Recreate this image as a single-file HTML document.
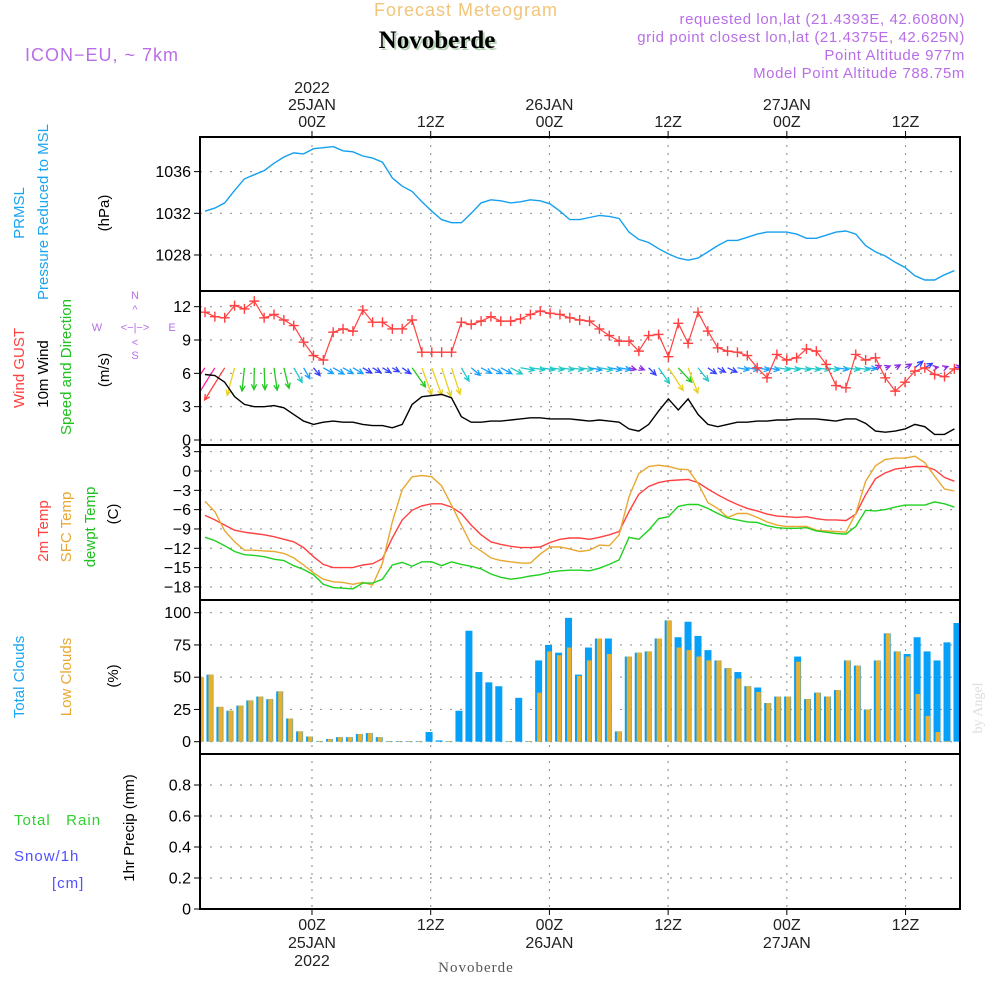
<!DOCTYPE html>
<html><head><meta charset="utf-8">
<style>
html,body{margin:0;padding:0;background:#fff;}
svg{display:block;font-family:"Liberation Sans",sans-serif;}
</style></head>
<body>
<svg id="chart" width="1000" height="1000" viewBox="0 0 1000 1000" xmlns="http://www.w3.org/2000/svg">
<rect width="1000" height="1000" fill="#fff"/>
<defs>
<clipPath id="cp1"><rect x="200" y="137" width="760" height="154"/></clipPath>
<clipPath id="cp2"><rect x="200" y="291" width="760" height="154"/></clipPath>
<clipPath id="cp3"><rect x="200" y="445" width="760" height="155"/></clipPath>
<clipPath id="cp4"><rect x="200" y="600" width="760" height="154"/></clipPath>
</defs>
<!-- header -->
<text x="466" y="16" text-anchor="middle" font-size="18" fill="#f2c57a" letter-spacing="1">Forecast Meteogram</text>
<text x="439" y="50" text-anchor="middle" font-size="25" font-weight="bold" font-family="Liberation Serif,serif" fill="#b8d4b8">Novoberde</text>
<text x="437" y="48" text-anchor="middle" font-size="25" font-weight="bold" font-family="Liberation Serif,serif" fill="#000">Novoberde</text>
<text x="25" y="61" font-size="18" fill="#b86ee8" letter-spacing="1">ICON−EU, ~ 7km</text>
<g font-size="15" fill="#b86ee8" text-anchor="end" letter-spacing="0.6">
<text x="965" y="24">requested lon,lat (21.4393E, 42.6080N)</text>
<text x="965" y="42">grid point closest lon,lat (21.4375E, 42.625N)</text>
<text x="965" y="60">Point Altitude 977m</text>
<text x="965" y="78">Model Point Altitude 788.75m</text>
</g>
<!-- left labels -->
<g font-size="15">
<text transform="translate(24,213) rotate(-90)" text-anchor="middle" fill="#1aa6f0">PRMSL</text>
<text transform="translate(48,212) rotate(-90)" text-anchor="middle" fill="#1aa6f0">Pressure Reduced to MSL</text>
<text transform="translate(109,213) rotate(-90)" text-anchor="middle" fill="#000">(hPa)</text>
<text transform="translate(24,368) rotate(-90)" text-anchor="middle"><tspan fill="#ff4040">Wind GUST</tspan></text>
<text transform="translate(48,374) rotate(-90)" text-anchor="middle" fill="#000">10m Wind</text>
<text transform="translate(71,367) rotate(-90)" text-anchor="middle" fill="#20c020">Speed and Direction</text>
<text transform="translate(109,370) rotate(-90)" text-anchor="middle" fill="#000">(m/s)</text>
<text transform="translate(48,531) rotate(-90)" text-anchor="middle" fill="#ff4040">2m Temp</text>
<text transform="translate(71,527) rotate(-90)" text-anchor="middle" fill="#e8a830">SFC Temp</text>
<text transform="translate(95,527) rotate(-90)" text-anchor="middle" fill="#20c020">dewpt Temp</text>
<text transform="translate(118,514) rotate(-90)" text-anchor="middle" fill="#000">(C)</text>
<text transform="translate(24,677) rotate(-90)" text-anchor="middle" fill="#1aa6f0">Total Clouds</text>
<text transform="translate(71,677) rotate(-90)" text-anchor="middle" fill="#e8a830">Low Clouds</text>
<text transform="translate(118,676) rotate(-90)" text-anchor="middle" fill="#000">(%)</text>
<text transform="translate(134,828) rotate(-90)" text-anchor="middle" fill="#000">1hr Precip (mm)</text>
<text x="14" y="825" fill="#30d030" letter-spacing="1">Total&#160;&#160;&#160;Rain</text>
<text x="14" y="861" fill="#5050ff" letter-spacing="1">Snow/1h</text>
<text x="52" y="888" fill="#5050ff" letter-spacing="1">[cm]</text>
</g>
<g font-size="11" fill="#b86ee8">
<text x="135" y="299" text-anchor="middle">N</text>
<text x="135" y="359" text-anchor="middle">S</text>
<text x="97" y="331" text-anchor="middle">W</text>
<text x="172" y="331" text-anchor="middle">E</text>
<text x="135" y="331" text-anchor="middle">&lt;−|−&gt;</text>
<text x="135" y="313" text-anchor="middle">^</text>
<text x="135" y="346" text-anchor="middle">&lt;</text>
</g>
<text transform="translate(982,708) rotate(-90)" text-anchor="middle" font-size="14" font-family="Liberation Serif,serif" fill="#ddd">by Angel</text>
<text x="476" y="972" text-anchor="middle" font-size="15" font-family="Liberation Serif,serif" fill="#555" letter-spacing="1">Novoberde</text>
<g id="grid"></g>
<g id="marks"></g>
<g id="frame"></g>
<g id="labels"></g>
</svg>
<script>
// ---- data (hourly) ----
const pressure = [1032.2,1032.5,1033.0,1034.2,1035.3,1035.7,1036.1,1036.8,1037.4,1037.8,1037.7,1038.2,1038.3,1038.4,1038.0,1037.9,1037.5,1037.3,1036.9,1035.4,1034.6,1034.1,1033.1,1032.2,1031.4,1031.1,1031.1,1032.0,1033.0,1033.3,1033.2,1033.0,1033.1,1033.3,1033.2,1032.9,1032.2,1031.4,1031.4,1031.6,1031.8,1031.7,1031.5,1030.2,1029.5,1029.2,1028.6,1028.1,1027.7,1027.5,1027.7,1028.3,1028.9,1029.4,1029.4,1029.7,1030.0,1030.2,1030.2,1030.2,1030.0,1029.6,1029.6,1029.9,1030.2,1030.3,1030.0,1028.9,1028.3,1027.9,1027.3,1026.8,1026.0,1025.6,1025.6,1026.1,1026.5];
const gust = [11.5,11.1,11.0,12.1,11.8,12.5,11.0,11.3,10.8,10.3,8.8,7.6,7.2,9.7,10.0,9.8,11.7,10.6,10.6,10.0,10.0,10.8,7.9,7.9,7.9,7.9,10.6,10.4,10.7,11.1,10.7,10.7,10.9,11.3,11.6,11.4,11.3,11.0,10.8,10.7,10.0,9.4,8.9,8.9,8.0,9.4,9.5,7.5,10.5,8.7,11.5,9.8,8.3,8.0,7.9,7.6,6.5,5.6,7.7,7.2,7.4,8.2,8.0,6.8,4.9,4.7,7.7,7.2,7.4,5.6,4.4,5.2,6.2,6.5,5.9,5.7,6.4];
const windSpeed = [5.9,5.8,5.2,3.9,3.2,3.0,3.0,3.1,2.9,2.3,1.7,1.4,1.6,1.7,1.6,1.6,1.4,1.3,1.3,1.1,1.4,3.2,3.9,4.0,4.1,3.8,2.1,1.6,1.6,1.7,1.7,1.8,1.9,2.0,2.0,1.9,1.9,1.9,1.8,1.7,1.8,1.7,1.6,1.0,0.8,1.4,2.6,3.7,2.7,3.7,2.3,1.4,1.2,1.4,1.6,1.6,1.7,1.7,1.8,1.8,1.9,1.9,1.9,1.8,1.7,1.9,1.9,1.5,0.8,0.7,0.8,1.0,1.4,1.2,0.5,0.5,1.0];
const windHeading = [215,212,212,195,186,181,178,172,166,150,150,140,120,120,120,120,120,120,120,120,125,145,160,160,162,162,150,130,118,118,118,118,100,98,98,98,98,98,98,100,100,100,100,105,110,135,145,147,137,159,142,125,120,115,100,100,100,100,98,98,98,98,98,98,98,98,98,95,70,70,60,60,50,60,80,70,80];
const temp2m = [-6.9,-7.6,-8.4,-9.2,-9.5,-9.7,-9.9,-10.2,-10.6,-11.0,-11.9,-13.3,-14.5,-15.0,-15.0,-15.0,-14.6,-14.4,-13.6,-10.4,-7.6,-6.1,-5.4,-5.1,-5.1,-5.6,-6.6,-8.4,-9.9,-11.0,-11.4,-11.7,-11.9,-11.9,-11.8,-11.1,-10.6,-10.4,-10.4,-10.6,-10.3,-9.9,-9.4,-6.3,-3.6,-2.4,-1.8,-1.5,-1.4,-1.3,-1.8,-2.8,-3.7,-4.5,-5.2,-5.8,-6.2,-6.7,-7.0,-7.1,-7.2,-7.1,-7.4,-7.6,-7.6,-7.7,-6.7,-3.7,-1.2,-0.3,0.3,0.5,0.7,0.7,0.2,-1.0,-1.6];
const tempSfc = [-4.7,-6.3,-9.3,-11.0,-12.3,-12.3,-12.4,-12.5,-12.8,-13.5,-14.6,-15.8,-16.8,-17.2,-17.3,-17.6,-17.3,-17.7,-14.3,-7.9,-2.9,-0.9,-0.7,-0.9,-2.3,-5.3,-8.4,-11.4,-12.4,-13.5,-13.9,-14.1,-14.3,-14.3,-12.9,-11.8,-11.8,-12.1,-12.5,-12.3,-11.5,-11.6,-9.9,-4.0,-0.4,0.7,0.9,0.7,0.3,0.2,-1.9,-4.9,-5.8,-7.2,-6.6,-6.6,-7.2,-7.9,-8.4,-8.6,-8.6,-8.6,-9.2,-9.3,-9.4,-9.5,-6.6,-1.6,0.8,1.8,2.0,2.0,2.3,1.3,-0.8,-2.8,-3.1];
const dewpt = [-10.3,-10.8,-11.6,-12.5,-13.0,-13.1,-13.3,-13.7,-13.9,-14.7,-15.3,-16.1,-17.6,-18.1,-18.2,-18.3,-17.4,-17.4,-16.8,-14.6,-14.2,-14.8,-14.1,-14.1,-14.7,-14.1,-14.5,-14.8,-15.2,-16.0,-16.5,-16.8,-16.6,-16.3,-16.1,-15.7,-15.5,-15.4,-15.4,-15.5,-15.1,-14.5,-13.8,-10.3,-10.6,-9.2,-7.4,-7.1,-5.5,-5.2,-5.2,-5.8,-6.6,-7.3,-7.6,-7.9,-8.0,-8.5,-8.8,-8.9,-8.9,-8.8,-9.3,-9.5,-9.7,-9.8,-8.6,-6.1,-6.2,-6.0,-5.6,-5.3,-5.3,-5.3,-4.8,-5.1,-5.6];
const totalClouds = [50,52,27,24,28,32,35,33,39,18,8,4,0.5,2,3.5,3.5,6,6.7,3.5,0.5,0.5,0.5,0.5,7.5,1,0.5,24,86,54,46,43,0.5,34,0.5,63,75,69,96,52,73,80,80,8,66,69,70,80,94,81,93,82,71,63,57,54,43,42,30,35,35,66,33,38,35,40,63,59,25,63,84,70,68,81,70,63,77,92];
const lowClouds = [50,52,27,24,28,32,35,33,39,18,8,4,0.5,2,3.5,3.5,6,6.7,3.5,0.5,0.5,0.5,0.5,0,0,0.5,0,0,0,0,0,0.5,0,0.5,38,70,67,73,51,63,80,68,8,66,69,70,80,94,73,71,66,63,63,57,49,43,38.5,30,35,35,62,33,38,35,40,63,59,25,63,84,70,66,37,20,7.5,0.5,0];
const precip = [];
// ---- ticks ----
const pTicks = [1028,1032,1036];
const wTicks = [0,3,6,9,12];
const tTicks = [3,0,-3,-6,-9,-12,-15,-18];
const cTicks = [0,25,50,75,100];
const rTicks = [0,0.2,0.4,0.6,0.8];
const timeTop = [["2022","25JAN","00Z"],["","","12Z"],["","26JAN","00Z"],["","","12Z"],["","27JAN","00Z"],["","","12Z"]];
const timeBottom = [["00Z","25JAN","2022"],["12Z","",""],["00Z","26JAN",""],["12Z","",""],["00Z","27JAN",""],["12Z","",""]];
const firstTickHour = 10.85, hoursPer12 = 12.04;

// ---- scales ----
const xS = i => 205 + 9.86 * i;
const xB = i => 200 + 9.96 * i;
const yP = p => 213.3 - (p - 1032) * 10.42;
const yW = v => 440 - v * 11.11;
const yT = t => 471 - t * 6.44;
const yC = c => 741.7 - c * 1.29;
const yR = r => 909 - r * 155;

const NS = "http://www.w3.org/2000/svg";
function mk(tag, attrs, parent) {
  const e = document.createElementNS(NS, tag);
  for (const k in attrs) e.setAttribute(k, attrs[k]);
  parent.appendChild(e);
  return e;
}
const grid = document.getElementById('grid');
const marks = document.getElementById('marks');
const frame = document.getElementById('frame');
const labels = document.getElementById('labels');

const panels = [[137,291],[291,445],[445,600],[600,754],[754,909]];
// vertical grid
for (let k = 0; k < timeTop.length; k++) {
  const x = xS(firstTickHour + k * hoursPer12);
  const l = mk('line', {x1:x, x2:x, y1:137, y2:909, stroke:'#999', 'stroke-dasharray':'2,6', 'stroke-width':1.2}, grid);
  
  
  mk('line', {x1:x, x2:x, y1:131, y2:137, stroke:'#000'}, frame);
  mk('line', {x1:x, x2:x, y1:909, y2:915, stroke:'#000'}, frame);
  timeTop[k].forEach((s, j) => { if (s) { const t = mk('text', {x:x, y:93 + j*17, 'text-anchor':'middle', 'font-size':16, fill:'#222'}, labels); t.textContent = s;
    
     } });
  timeBottom[k].forEach((s, j) => { if (s) { const t = mk('text', {x:x, y:930 + j*18, 'text-anchor':'middle', 'font-size':16, fill:'#222'}, labels); t.textContent = s;
    
     } });
}
function yAxis(ticks, sc, fmt, name) {
  ticks.forEach(v => {
    const y = sc(v);
    const g = mk('line', {x1:200, x2:960, y1:y, y2:y, stroke:'#999', 'stroke-dasharray':'2,8', 'stroke-width':1.2}, grid);
    
    
    mk('line', {x1:194, x2:200, y1:y, y2:y, stroke:'#000'}, frame);
    const t = mk('text', {x:191, y:y + 5.5, 'text-anchor':'end', 'font-size':16, fill:'#000'}, labels);
    t.textContent = fmt(v);
    
    
  });
}
yAxis(pTicks, yP, v => String(v), 'pressure');
yAxis(wTicks, yW, v => String(v), 'wind');
yAxis(tTicks, yT, v => (v < 0 ? '−' + (-v) : String(v)), 'temp');
yAxis(cTicks, yC, v => String(v), 'cloud');
yAxis(rTicks, yR, v => (v === 0 ? '0' : v.toFixed(1)), 'precip');

function line(arr, xs, ys, color, clip, name, w) {
  const d = arr.map((v, i) => (i ? 'L' : 'M') + xs(i).toFixed(1) + ',' + ys(v).toFixed(1)).join('');
  const p = mk('path', {d:d, fill:'none', stroke:color, 'stroke-width':w || 1.4, 'clip-path':'url(#' + clip + ')'}, marks);
  
  
}
// panel 1
line(pressure, xS, yP, '#14a0f0', 'cp1', 'pressure-line');
// panel 2: wind arrows
const arrowG = mk('g', {'clip-path':'url(#cp2)'}, marks);
function spdColor(s) {
  if (s >= 5.5) return '#ff20a0';
  if (s >= 4.5) return '#ff4040';
  if (s >= 3.6) return '#e8d020';
  if (s >= 2.65) return '#20c820';
  if (s >= 1.8) return '#20c8c8';
  if (s >= 1.45) return '#1aa0ff';
  if (s >= 1.1) return '#3040ff';
  return '#8a2be2';
}
windSpeed.forEach((s, i) => {
  const x0 = xS(i), y0 = yW(6.5);
  const len = 7.3 * s;
  const a = windHeading[i] * Math.PI / 180;
  const dx = Math.sin(a), dy = -Math.cos(a);
  const x1 = x0 + dx * len, y1 = y0 + dy * len;
  const c = spdColor(s);
  const h = 6, sp = 0.45;
  const ba = Math.atan2(-dy, -dx);
  const d = `M${x0},${y0}L${x1},${y1}M${x1 + h*Math.cos(ba+sp)},${y1 + h*Math.sin(ba+sp)}L${x1},${y1}L${x1 + h*Math.cos(ba-sp)},${y1 + h*Math.sin(ba-sp)}`;
  const p = mk('path', {d:d, fill:'none', stroke:c, 'stroke-width':1.3}, arrowG);
  
  
});
line(windSpeed, xS, yW, '#000', 'cp2', 'wind-speed-line');
line(gust, xS, yW, '#ff4040', 'cp2', 'wind-gust-line', 1.2);
const gustG = mk('g', {'clip-path':'url(#cp2)', stroke:'#ff4040', 'stroke-width':1.4}, marks);
gust.forEach((v, i) => {
  const x = xS(i), y = yW(v);
  const p = mk('path', {d:`M${x-5},${y}H${x+5}M${x},${y-5}V${y+5}`}, gustG);
  
  
});
// panel 3
line(temp2m, xS, yT, '#ff4040', 'cp3', 'temp-2m-line');
line(tempSfc, xS, yT, '#e8a830', 'cp3', 'temp-sfc-line');
line(dewpt, xS, yT, '#20d020', 'cp3', 'dewpt-line');
// panel 4 bars
const barG = mk('g', {'clip-path':'url(#cp4)'}, marks);
totalClouds.forEach((v, i) => {
  const x = xB(i);
  const b = mk('rect', {x:x - 3.5, y:yC(v), width:7, height:yC(0) - yC(v), fill:'#06a0f8'}, barG);
  
  
  const lv = lowClouds[i];
  const b2 = mk('rect', {x:x - 1.5, y:yC(lv), width:4.5, height:yC(0) - yC(lv), fill:'#e8b030'}, barG);
  
  
});
// panel 5 precip baseline
const pl = mk('line', {x1:200, x2:960, y1:yR(0), y2:yR(0), stroke:'#000', 'stroke-dasharray':'5,2', 'stroke-width':1.5}, marks);


// frames
panels.forEach(([t, b], k) => {
  const r = mk('rect', {x:200, y:t, width:760, height:b - t, fill:'none', stroke:'#000', 'stroke-width':2}, frame);
  
  
});
</script>
</body></html>
